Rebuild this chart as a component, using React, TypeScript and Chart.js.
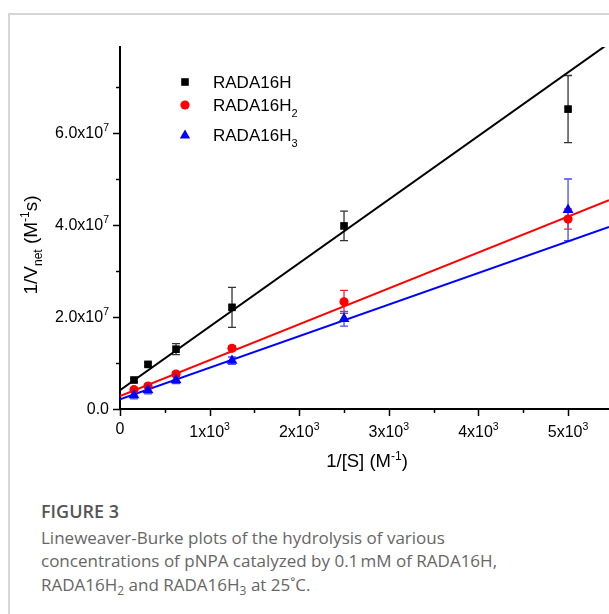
import React, { useEffect, useRef } from 'react';
import { Chart, registerables } from 'chart.js';

Chart.register(...registerables);

// ---------- data ----------
const xValues = [156.25, 312.5, 625, 1250, 2500, 5000];
const seriesBase = ['RADA16H', 'RADA16H', 'RADA16H'];
const seriesSub = ['', '2', '3'];
const seriesColors = ['#000000', '#ff0000', '#0000ff'];
const errColors = ['#333333', '#ff2020', '#4a4aff'];
const yH = [6.3e6, 9.7e6, 13.0e6, 22.1e6, 39.8e6, 65.2e6];
const errH = [0.4e6, 0.4e6, 1.2e6, 4.35e6, 3.2e6, 7.3e6];
const yH2 = [4.2e6, 5.0e6, 7.6e6, 13.2e6, 23.3e6, 41.3e6];
const errH2 = [0.4e6, 0.4e6, 0.5e6, 0.5e6, 2.5e6, 2.2e6];
const yH3 = [3.0e6, 4.1e6, 6.3e6, 10.5e6, 19.6e6, 43.3e6];
const errH3 = [0.8e6, 0.8e6, 0.8e6, 0.8e6, 1.6e6, 6.7e6];
const fitX = [0, 5457];
const fitH = [4.1e6, 79.5e6];
const fitH2 = [2.8e6, 45.4e6];
const fitH3 = [2.1e6, 39.6e6];

const xMin = 0;
const xMax = 5457;
const yMin = 0;
const yMax = 7.87e7;

const xMajorTicks = [0, 1000, 2000, 3000, 4000, 5000];
const xMajorLabels = ['0', '1x10', '2x10', '3x10', '4x10', '5x10'];
const xLabelExp = ['', '3', '3', '3', '3', '3'];
const xMinorTicks = [500, 1500, 2500, 3500, 4500];
const yMajorTicks = [0, 2e7, 4e7, 6e7];
const yMajorLabels = ['0.0', '2.0x10', '4.0x10', '6.0x10'];
const yLabelExp = ['', '7', '7', '7'];
const yMinorTicks = [1e7, 3e7, 5e7, 7e7];

const FONT = '"Liberation Sans", Arial, sans-serif';

type Part = { t: string; size: number; dy: number };

function partsWidth(ctx: CanvasRenderingContext2D, parts: Part[]) {
  let w = 0;
  for (const p of parts) {
    ctx.font = `${p.size}px ${FONT}`;
    w += ctx.measureText(p.t).width;
  }
  return w;
}

function drawParts(ctx: CanvasRenderingContext2D, parts: Part[], x: number, y: number, align: 'left' | 'center' | 'right') {
  const w = partsWidth(ctx, parts);
  let cx = align === 'left' ? x : align === 'center' ? x - w / 2 : x - w;
  ctx.textAlign = 'left';
  ctx.textBaseline = 'alphabetic';
  for (const p of parts) {
    ctx.font = `${p.size}px ${FONT}`;
    ctx.fillText(p.t, cx, y + p.dy);
    cx += ctx.measureText(p.t).width;
  }
}

function drawMarker(ctx: CanvasRenderingContext2D, style: number, x: number, y: number, color: string) {
  ctx.fillStyle = color;
  ctx.beginPath();
  if (style === 0) {
    ctx.rect(x - 3.8, y - 3.8, 7.6, 7.6);
  } else if (style === 1) {
    ctx.arc(x, y, 4.6, 0, Math.PI * 2);
  } else {
    ctx.moveTo(x, y - 5.5);
    ctx.lineTo(x + 5.2, y + 3.5);
    ctx.lineTo(x - 5.2, y + 3.5);
    ctx.closePath();
  }
  ctx.fill();
}

const annotPlugin = {
  id: 'annot',
  beforeDatasetsDraw(chart: any) {
    const ctx: CanvasRenderingContext2D = chart.ctx;
    const xs = chart.scales.x;
    const ys = chart.scales.y;
    const ys_ = [yH, yH2, yH3];
    const es = [errH, errH2, errH3];
    ctx.save();
    ctx.lineWidth = 1.3;
    for (let s = 0; s < 3; s++) {
      ctx.strokeStyle = errColors[s];
      for (let i = 0; i < xValues.length; i++) {
        const px = xs.getPixelForValue(xValues[i]);
        const t = ys.getPixelForValue(ys_[s][i] + es[s][i]);
        const b = ys.getPixelForValue(ys_[s][i] - es[s][i]);
        ctx.beginPath();
        ctx.moveTo(px, t);
        ctx.lineTo(px, b);
        ctx.moveTo(px - 4, t);
        ctx.lineTo(px + 4, t);
        ctx.moveTo(px - 4, b);
        ctx.lineTo(px + 4, b);
        ctx.stroke();
      }
    }
    ctx.restore();
  },
  afterDraw(chart: any) {
    const ctx: CanvasRenderingContext2D = chart.ctx;
    const xs = chart.scales.x;
    const ys = chart.scales.y;
    const area = chart.chartArea;
    ctx.save();
    ctx.strokeStyle = '#000';
    ctx.fillStyle = '#000';
    ctx.lineWidth = 1.5;
    // y ticks
    const yl = area.left;
    yMajorTicks.forEach((v) => {
      const py = Math.round(ys.getPixelForValue(v)) + 0.5;
      ctx.beginPath();
      ctx.moveTo(yl - 7, py);
      ctx.lineTo(yl, py);
      ctx.stroke();
    });
    yMinorTicks.forEach((v) => {
      const py = Math.round(ys.getPixelForValue(v)) + 0.5;
      ctx.beginPath();
      ctx.moveTo(yl - 4, py);
      ctx.lineTo(yl, py);
      ctx.stroke();
    });
    // x ticks
    const xb = area.bottom;
    xMajorTicks.forEach((v) => {
      const px = Math.round(xs.getPixelForValue(v)) + 0.5;
      ctx.beginPath();
      ctx.moveTo(px, xb);
      ctx.lineTo(px, xb + 7);
      ctx.stroke();
    });
    xMinorTicks.forEach((v) => {
      const px = Math.round(xs.getPixelForValue(v)) + 0.5;
      ctx.beginPath();
      ctx.moveTo(px, xb);
      ctx.lineTo(px, xb + 4);
      ctx.stroke();
    });
    // y labels
    yMajorTicks.forEach((v, i) => {
      const py = ys.getPixelForValue(v);
      const parts: Part[] = [{ t: yMajorLabels[i], size: 16, dy: 0 }];
      if (yLabelExp[i]) parts.push({ t: yLabelExp[i], size: 10.5, dy: -7.5 });
      drawParts(ctx, parts, yl - 11, py + 5, 'right');
    });
    // x labels
    xMajorTicks.forEach((v, i) => {
      const px = xs.getPixelForValue(v);
      const parts: Part[] = [{ t: xMajorLabels[i], size: 16, dy: 0 }];
      if (xLabelExp[i]) parts.push({ t: xLabelExp[i], size: 10.5, dy: -7.5 });
      drawParts(ctx, parts, px, xLabelExp[i] ? xb + 28 : xb + 25, 'center');
    });
    // x title
    drawParts(
      ctx,
      [
        { t: '1/[S] (M', size: 18.5, dy: 0 },
        { t: '-1', size: 12, dy: -7.5 },
        { t: ')', size: 18.5, dy: 0 },
      ],
      357,
      452,
      'center'
    );
    // y title
    ctx.save();
    ctx.translate(27, 230);
    ctx.rotate(-Math.PI / 2);
    drawParts(
      ctx,
      [
        { t: '1/V', size: 19, dy: 0 },
        { t: 'net', size: 12, dy: 5 },
        { t: ' (M', size: 19, dy: 0 },
        { t: '-1', size: 12, dy: -8 },
        { t: 's)', size: 19, dy: 0 },
      ],
      0,
      0,
      'center'
    );
    ctx.restore();
    // legend
    const legendY = [67, 90, 120];
    for (let s = 0; s < 3; s++) {
      drawMarker(ctx, s, 175, legendY[s], seriesColors[s]);
      ctx.fillStyle = '#000';
      const parts: Part[] = [{ t: seriesBase[s], size: 17, dy: 0 }];
      if (seriesSub[s]) parts.push({ t: seriesSub[s], size: 11, dy: 6 });
      drawParts(ctx, parts, 203, legendY[s] + 6, 'left');
    }
    ctx.restore();
  },
};

function ChartView() {
  const ref = useRef<HTMLCanvasElement | null>(null);
  useEffect(() => {
    if (!ref.current) return;
    const mk = (ys: number[]) => xValues.map((x, i) => ({ x, y: ys[i] }));
    const mkFit = (ys: number[]) => fitX.map((x, i) => ({ x, y: ys[i] }));
    const chart = new Chart(ref.current, {
      type: 'scatter',
      data: {
        datasets: [
          { label: 'fit H', data: mkFit(fitH), showLine: true, borderColor: seriesColors[0], borderWidth: 2, pointRadius: 0, order: 5 } as any,
          { label: 'fit H2', data: mkFit(fitH2), showLine: true, borderColor: seriesColors[1], borderWidth: 2, pointRadius: 0, order: 5 } as any,
          { label: 'fit H3', data: mkFit(fitH3), showLine: true, borderColor: seriesColors[2], borderWidth: 2, pointRadius: 0, order: 5 } as any,
          { label: seriesBase[0], data: mk(yH), pointStyle: 'rect', pointRadius: 5.4, backgroundColor: seriesColors[0], borderColor: seriesColors[0], borderWidth: 0, order: 2 } as any,
          { label: seriesBase[1] + seriesSub[1], data: mk(yH2), pointStyle: 'circle', pointRadius: 4.6, backgroundColor: seriesColors[1], borderColor: seriesColors[1], borderWidth: 0, order: 2 } as any,
          { label: seriesBase[2] + seriesSub[2], data: mk(yH3), pointStyle: 'triangle', pointRadius: 6.3, backgroundColor: seriesColors[2], borderColor: seriesColors[2], borderWidth: 0, order: 1 } as any,
        ],
      },
      options: {
        animation: false,
        responsive: false,
        events: [],
        layout: { autoPadding: false, padding: { left: 110, top: 32, right: 0, bottom: 76 } },
        plugins: { legend: { display: false }, tooltip: { enabled: false } },
        scales: {
          x: {
            type: 'linear',
            min: xMin,
            max: xMax,
            ticks: { display: false },
            grid: { display: false, drawTicks: false },
            border: { display: true, color: '#000', width: 2 },
          },
          y: {
            type: 'linear',
            min: yMin,
            max: yMax,
            ticks: { display: false },
            grid: { display: false, drawTicks: false },
            border: { display: true, color: '#000', width: 2 },
          },
        },
      } as any,
      plugins: [annotPlugin as any],
    });
    return () => chart.destroy();
  }, []);
  return (
    <canvas
      ref={ref}
      width={599}
      height={470}
      style={{ position: 'absolute', left: 10, top: 15, width: 599, height: 470 }}
    />
  );
}

const capFont = '"Open Sans", "Noto Sans", sans-serif';

export default function App() {
  const sub = (t: string) => (
    <span style={{ fontSize: 12, position: 'relative', top: 4 }}>{t}</span>
  );
  const lineStyle = (top: number): React.CSSProperties => ({
    position: 'absolute',
    left: 41,
    top,
    fontFamily: capFont,
    fontSize: 17,
    lineHeight: 'normal',
    color: '#666666',
    whiteSpace: 'nowrap',
    fontWeight: 400,
  });
  return (
    <div>
      <div
        style={{
          position: 'absolute',
          left: 8,
          top: 13,
          width: 601,
          height: 601,
          boxSizing: 'border-box',
          borderTop: '2px solid #d6d6d6',
          borderLeft: '2px solid #d6d6d6',
        }}
      />
      <ChartView />
      <div
        style={{
          position: 'absolute',
          left: 41,
          top: 498.8,
          fontFamily: capFont,
          fontSize: 18,
          fontWeight: 600,
          lineHeight: 'normal',
          color: '#555555',
          whiteSpace: 'nowrap',
        }}
      >
        FIGURE 3
      </div>
      <div style={lineStyle(525.8)}>Lineweaver-Burke plots of the hydrolysis of various</div>
      <div style={lineStyle(548.8)}>concentrations of pNPA catalyzed by 0.1&#8239;mM of RADA16H,</div>
      <div style={lineStyle(572.8)}>
        RADA16H{sub('2')} and RADA16H{sub('3')} at 25˚C.
      </div>
    </div>
  );
}
